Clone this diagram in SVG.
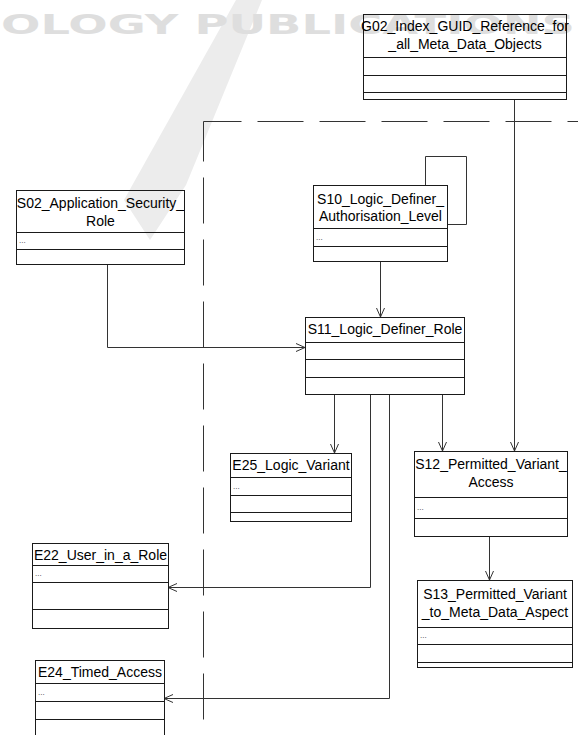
<svg xmlns="http://www.w3.org/2000/svg" width="578" height="735" viewBox="0 0 578 735">
<style>
.box{fill:none;stroke:#1a1a1a;stroke-width:1}
.div{stroke:#1a1a1a;stroke-width:1}
.t{font-family:"Liberation Sans",Arial,sans-serif;font-size:14px;fill:#000;text-anchor:middle}
.d{font-family:"Liberation Sans",Arial,sans-serif;font-size:8px;fill:#333}
.c{fill:none;stroke:#333;stroke-width:1}
.dash{fill:none;stroke:#333;stroke-width:1;stroke-dasharray:46 16}
</style>
<defs>
<marker id="arr" markerUnits="userSpaceOnUse" markerWidth="12" markerHeight="12" refX="10" refY="6" orient="auto">
<path d="M1,2 L10,6 L1,10" fill="none" stroke="#333" stroke-width="1"/>
</marker>
</defs>
<rect width="578" height="735" fill="#fff"/>
<g id="watermark">
<polygon points="236,0 262,0 186,185 150,240 124,200" fill="#ececec"/>
<text x="1" y="34" font-family="DejaVu Sans,sans-serif" font-weight="bold" font-size="27" fill="#dedede" textLength="574" lengthAdjust="spacingAndGlyphs">OLOGY PUBLICATIONS</text>
</g>
<g id="boundary">
<path class="dash" d="M203.5,121.5 H578" stroke-dashoffset="8"/>
<path class="dash" d="M203.5,121.5 V735" stroke-dashoffset="6"/>
</g>
<g id="connectors">
<path class="c" d="M107.5,264 V347.5 H305" marker-end="url(#arr)"/>
<path class="c" d="M380.5,261 V317" marker-end="url(#arr)"/>
<path class="c" d="M447,224.5 H466.5 V156.5 H425.5 V185"/>
<path class="c" d="M334.5,394 V453" marker-end="url(#arr)"/>
<path class="c" d="M370.5,394 V587.5 H168" marker-end="url(#arr)"/>
<path class="c" d="M389.5,394 V698.5 H164" marker-end="url(#arr)"/>
<path class="c" d="M442.5,394 V451" marker-end="url(#arr)"/>
<path class="c" d="M514.5,99 V451" marker-end="url(#arr)"/>
<path class="c" d="M489.5,536 V580" marker-end="url(#arr)"/>
</g>
<g id="G02">
<rect class="box" x="363.5" y="14.5" width="203" height="85"/>
<path class="div" d="M363.5,57.5 H566.5 M363.5,75.5 H566.5 M363.5,92.5 H566.5"/>
<text class="t" x="465" y="31">G02_Index_GUID_Reference_for</text>
<text class="t" x="465" y="49">_all_Meta_Data_Objects</text>
</g>
<g id="S02">
<rect class="box" x="16.5" y="190.5" width="168" height="74"/>
<path class="div" d="M16.5,232.5 H184.5 M16.5,249.5 H184.5"/>
<text class="t" x="100.5" y="208">S02_Application_Security_</text>
<text class="t" x="100.5" y="226">Role</text>
<text class="d" x="19" y="243">...</text>
</g>
<g id="S10">
<rect class="box" x="313.5" y="185.5" width="134" height="76"/>
<path class="div" d="M313.5,228.5 H447.5 M313.5,246.5 H447.5"/>
<text class="t" x="380.5" y="204">S10_Logic_Definer_</text>
<text class="t" x="380.5" y="221">Authorisation_Level</text>
<text class="d" x="316" y="240">...</text>
</g>
<g id="S11">
<rect class="box" x="305.5" y="317.5" width="159" height="77"/>
<path class="div" d="M305.5,342.5 H464.5 M305.5,359.5 H464.5 M305.5,377.5 H464.5"/>
<text class="t" x="385" y="334">S11_Logic_Definer_Role</text>
</g>
<g id="E25">
<rect class="box" x="230.5" y="453.5" width="121" height="68"/>
<path class="div" d="M230.5,477.5 H351.5 M230.5,495.5 H351.5 M230.5,512.5 H351.5"/>
<text class="t" x="291" y="470">E25_Logic_Variant</text>
<text class="d" x="233" y="489">...</text>
</g>
<g id="S12">
<rect class="box" x="414.5" y="451.5" width="153" height="85"/>
<path class="div" d="M414.5,497.5 H567.5 M414.5,518.5 H567.5"/>
<text class="t" x="491" y="469">S12_Permitted_Variant_</text>
<text class="t" x="491" y="487">Access</text>
<text class="d" x="417" y="510">...</text>
</g>
<g id="E22">
<rect class="box" x="32.5" y="543.5" width="136" height="85"/>
<path class="div" d="M32.5,565.5 H168.5 M32.5,582.5 H168.5 M32.5,609.5 H168.5"/>
<text class="t" x="100.5" y="560">E22_User_in_a_Role</text>
<text class="d" x="35" y="576">...</text>
</g>
<g id="S13">
<rect class="box" x="417.5" y="580.5" width="155" height="87"/>
<path class="div" d="M417.5,627.5 H572.5 M417.5,644.5 H572.5 M417.5,662.5 H572.5"/>
<text class="t" x="495" y="599">S13_Permitted_Variant</text>
<text class="t" x="495" y="617">_to_Meta_Data_Aspect</text>
<text class="d" x="420" y="638">...</text>
</g>
<g id="E24">
<rect class="box" x="35.5" y="660.5" width="129" height="80"/>
<path class="div" d="M35.5,683.5 H164.5 M35.5,701.5 H164.5 M35.5,719.5 H164.5"/>
<text class="t" x="100" y="677">E24_Timed_Access</text>
<text class="d" x="38" y="695">...</text>
</g>
</svg>
